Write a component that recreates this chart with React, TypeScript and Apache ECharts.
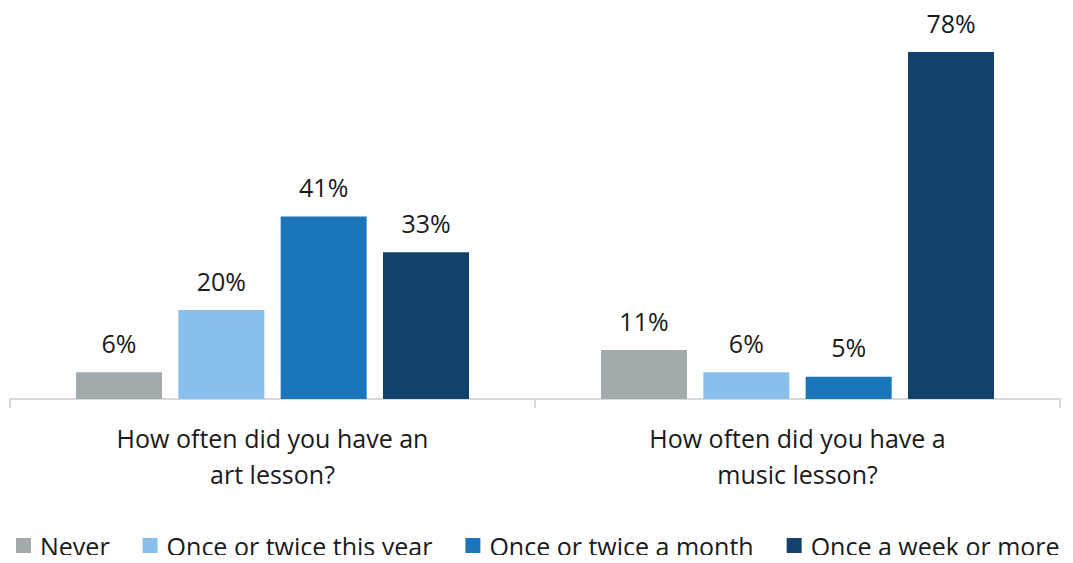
import React, { useEffect, useRef } from "react";
import * as echarts from "echarts";

const categories = ["How often did you have an\nart lesson?", "How often did you have a\nmusic lesson?"];
const seriesNames = ["Never", "Once or twice this year", "Once or twice a month", "Once a week or more"];
const never = [6, 11];
const onceTwiceYear = [20, 6];
const onceTwiceMonth = [41, 5];
const weekly = [33, 78];
const colors = ["#A3AAAD", "#89BFEB", "#1B75BB", "#12416B"];

const FONT = "'Open Sans', 'Liberation Sans', sans-serif";

export default function App() {
  const ref = useRef<HTMLDivElement>(null);
  useEffect(() => {
    if (!ref.current) return;
    const chart = echarts.init(ref.current, undefined, { renderer: "svg" });
    const values = [never, onceTwiceYear, onceTwiceMonth, weekly];
    chart.setOption({
      animation: false,
      grid: { left: 10, right: 13, top: 52, bottom: 164 },
      legend: {
        bottom: 0,
        left: 16,
        width: 1057,
        padding: [5, 0],
        itemWidth: 15,
        itemHeight: 15,
        itemGap: 33,
        icon: "rect",
        textStyle: { fontFamily: FONT, fontSize: 25, color: "#1a1a1a", padding: [0, 0, 0, 4] },
        data: seriesNames,
      },
      xAxis: {
        type: "category",
        data: categories,
        axisLine: { lineStyle: { color: "#D9D9D9", width: 2 } },
        axisTick: { show: true, length: 9, lineStyle: { color: "#D9D9D9", width: 2 } },
        axisLabel: { fontFamily: FONT, fontSize: 25, color: "#1a1a1a", lineHeight: 36, margin: 21 },
      },
      yAxis: { type: "value", min: 0, max: 78, show: false, splitLine: { show: false } },
      series: seriesNames.map((name, i) => ({
        name,
        type: "bar",
        data: values[i],
        barWidth: 86,
        barGap: "19%",
        itemStyle: { color: colors[i] },
        label: {
          show: true,
          position: "top",
          distance: 17,
          formatter: "{c}%",
          fontFamily: FONT,
          fontSize: 25,
          color: "#1a1a1a",
        },
      })),
    });
    return () => chart.dispose();
  }, []);
  return <div ref={ref} style={{ width: 1073, height: 563, margin: -8 }} />;
}
